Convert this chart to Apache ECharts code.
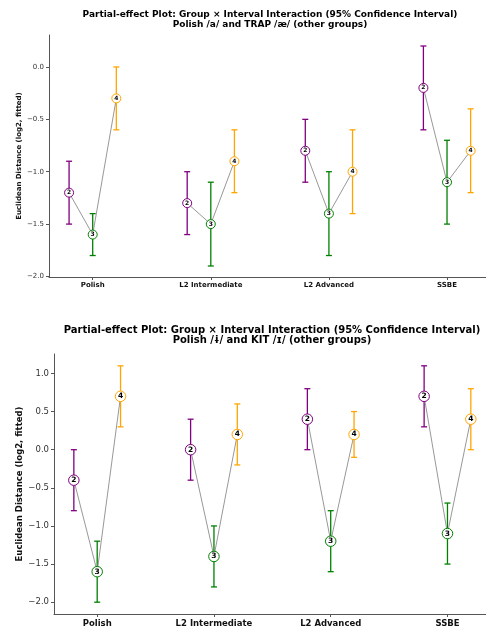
<!DOCTYPE html>
<html>
<head>
<meta charset="utf-8">
<title>Partial-effect Plot</title>
<script src="https://cdn.jsdelivr.net/npm/echarts@6/dist/echarts.min.js"></script>
<style>
  html, body { margin: 0; padding: 0; background: #fff; }
  #main { width: 486px; height: 630px; }
</style>
</head>
<body>
<div id="main"></div>
<script>
// groups along the x axis and the three intervals inside each group
var categories = ['Polish', 'L2 Intermediate', 'L2 Advanced', 'SSBE'];
var intervals = ['2', '3', '4'];

// top panel: Polish /a/ and TRAP /æ/
var topMean = [[-1.2, -1.6, -0.3], [-1.3, -1.5, -0.9], [-0.8, -1.4, -1.0], [-0.2, -1.1, -0.8]];
var topLow  = [[-1.5, -1.8, -0.6], [-1.6, -1.9, -1.2], [-1.1, -1.8, -1.4], [-0.6, -1.5, -1.2]];
var topHigh = [[-0.9, -1.4,  0.0], [-1.0, -1.1, -0.6], [-0.5, -1.0, -0.6], [ 0.2, -0.7, -0.4]];
var topTicks = [-2.0, -1.5, -1.0, -0.5, 0.0];

// bottom panel: Polish /ɨ/ and KIT /ɪ/
var botMean = [[-0.4, -1.6, 0.7], [0.0, -1.4, 0.2], [0.4, -1.2, 0.2], [0.7, -1.1, 0.4]];
var botLow  = [[-0.8, -2.0, 0.3], [-0.4, -1.8, -0.2], [0.0, -1.6, -0.1], [0.3, -1.5, 0.0]];
var botHigh = [[ 0.0, -1.2, 1.1], [ 0.4, -1.0, 0.6], [0.8, -0.8, 0.5], [1.1, -0.7, 0.8]];
var botTicks = [-2.0, -1.5, -1.0, -0.5, 0.0, 0.5, 1.0];

var colors = ['#800080', '#008000', '#ffa500'];
var dodge = [-0.2, 0, 0.2];
var FONT = 'DejaVu Sans';

var myChart = echarts.init(document.getElementById('main'));

// matplotlib style minus sign
function fmt(v) {
	var s = Math.abs(v).toFixed(1);
	return v < -1e-9 ? '\u2212' + s : s;
}

function errRender(params, api) {
	var x = api.value(0);
	var lo = api.coord([x, api.value(1)]);
	var hi = api.coord([x, api.value(2)]);
	var cw = 3;
	var st = { stroke: api.visual('color'), lineWidth: 1.3 };
	return {
		type: 'group',
		children: [
			{ type: 'line', shape: { x1: lo[0], y1: lo[1], x2: hi[0], y2: hi[1] }, style: st },
			{ type: 'line', shape: { x1: lo[0] - cw, y1: lo[1], x2: lo[0] + cw, y2: lo[1] }, style: st },
			{ type: 'line', shape: { x1: hi[0] - cw, y1: hi[1], x2: hi[0] + cw, y2: hi[1] }, style: st }
		]
	};
}

var grids = [], xAxes = [], yAxes = [], series = [];

function addPanel(idx, mean, low, high, ticks, box, fs, mk) {
	grids.push(box.grid);
	xAxes.push({
		type: 'value', gridIndex: idx, min: -0.37, max: 3.33,
		splitLine: { show: false },
		axisLine: { show: true, onZero: false, lineStyle: { color: '#555', width: 1 } },
		axisTick: { show: true, customValues: [0, 1, 2, 3], length: 3, lineStyle: { color: '#555' } },
		axisLabel: {
			customValues: [0, 1, 2, 3], margin: 5,
			fontFamily: FONT, fontSize: fs, fontWeight: 'bold', color: '#111',
			formatter: function (v) { return categories[Math.round(v)]; }
		}
	});
	yAxes.push({
		type: 'value', gridIndex: idx, min: box.ymin, max: box.ymax,
		splitLine: { show: false },
		axisLine: { show: true, onZero: false, lineStyle: { color: '#555', width: 1 } },
		axisTick: { show: true, customValues: ticks, length: 3, lineStyle: { color: '#555' } },
		axisLabel: {
			customValues: ticks, margin: 5,
			fontFamily: FONT, fontSize: fs, color: '#333',
			formatter: fmt
		},
		name: 'Euclidean Distance (log2, fitted)',
		nameLocation: 'middle', nameRotate: 90, nameGap: box.nameGap,
		nameMoveOverlap: false,
		nameTextStyle: { fontFamily: FONT, fontSize: fs, fontWeight: 'bold', color: '#111' }
	});

	// error bars
	intervals.forEach(function (iv, j) {
		var d = categories.map(function (c, i) { return [i + dodge[j], low[i][j], high[i][j]]; });
		series.push({
			type: 'custom', xAxisIndex: idx, yAxisIndex: idx,
			renderItem: errRender, itemStyle: { color: colors[j], opacity: 0.9 },
			encode: { x: 0, y: [1, 2] }, data: d, z: 2
		});
	});
	// thin grey line joining the three intervals of a group
	categories.forEach(function (c, i) {
		series.push({
			type: 'line', xAxisIndex: idx, yAxisIndex: idx,
			data: intervals.map(function (iv, j) { return [i + dodge[j], mean[i][j]]; }),
			symbol: 'none', silent: true,
			lineStyle: { color: '#8c8c8c', width: 0.9 }, z: 3
		});
	});
	// numbered markers
	intervals.forEach(function (iv, j) {
		series.push({
			type: 'scatter', xAxisIndex: idx, yAxisIndex: idx,
			data: categories.map(function (c, i) { return [i + dodge[j], mean[i][j]]; }),
			symbol: 'circle', symbolSize: mk,
			itemStyle: { color: '#fff', borderColor: colors[j], borderWidth: 1, opacity: 1 },
			label: {
				show: true, position: 'inside', formatter: iv,
				fontFamily: FONT, fontSize: mk - 3, fontWeight: 'bold', color: '#000'
			},
			z: 5
		});
	});
}

addPanel(0, topMean, topLow, topHigh, topTicks,
	{ grid: { left: 49, right: 0, top: 35, height: 242 }, ymin: -2.005, ymax: 0.305, nameGap: 26 }, 7, 9);
addPanel(1, botMean, botLow, botHigh, botTicks,
	{ grid: { left: 54, right: 0, top: 354, height: 260 }, ymin: -2.155, ymax: 1.255, nameGap: 30 }, 8.5, 10.5);

var option = {
	animation: false,
	backgroundColor: '#fff',
	title: [
		{
			text: 'Partial-effect Plot: Group \u00d7 Interval Interaction (95% Confidence Interval)\nPolish /a/ and TRAP /\u00e6/ (other groups)',
			left: 265, top: 5, textAlign: 'center',
			textStyle: { fontFamily: FONT, fontSize: 9, fontWeight: 'bold', color: '#000', lineHeight: 10 }
		},
		{
			text: 'Partial-effect Plot: Group \u00d7 Interval Interaction (95% Confidence Interval)\nPolish /\u0268/ and KIT /\u026a/ (other groups)',
			left: 267, top: 320, textAlign: 'center',
			textStyle: { fontFamily: FONT, fontSize: 10, fontWeight: 'bold', color: '#000', lineHeight: 10.5 }
		}
	],
	grid: grids,
	xAxis: xAxes,
	yAxis: yAxes,
	series: series
};

myChart.setOption(option);
</script>
</body>
</html>
